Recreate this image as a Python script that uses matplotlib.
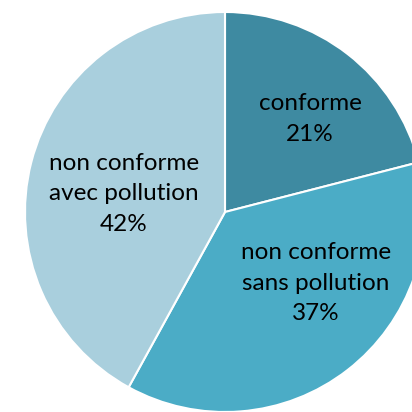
import matplotlib.pyplot as plt

# données
labels = ['conforme', 'non conforme\nsans pollution', 'non conforme\navec pollution']
values = [21, 37, 42]
colors = ['#3E8AA1', '#4BACC6', '#A9CFDD']
# position du texte (x, y) en unités du rayon
label_pos = [(0.425, 0.465), (0.455, -0.355), (-0.505, 0.09)]

fig = plt.figure(figsize=(4.12, 4.12), dpi=100)
ax = fig.add_axes([0, 0, 1, 1])

ax.pie(values, colors=colors, startangle=90, counterclock=False,
       radius=1.0, wedgeprops=dict(edgecolor='white', linewidth=1.5))

for lab, v, (x, y) in zip(labels, values, label_pos):
    ax.text(x, y, f'{lab}\n{v}%', ha='center', va='center',
            fontsize=17.5, family=['Lato', 'DejaVu Sans'],
            color='black', linespacing=1.55)

ax.set_xlim(-1.125, 0.935)
ax.set_ylim(-1.0, 1.06)
ax.set_aspect('equal')
ax.axis('off')

plt.savefig('out.png', dpi=100)
